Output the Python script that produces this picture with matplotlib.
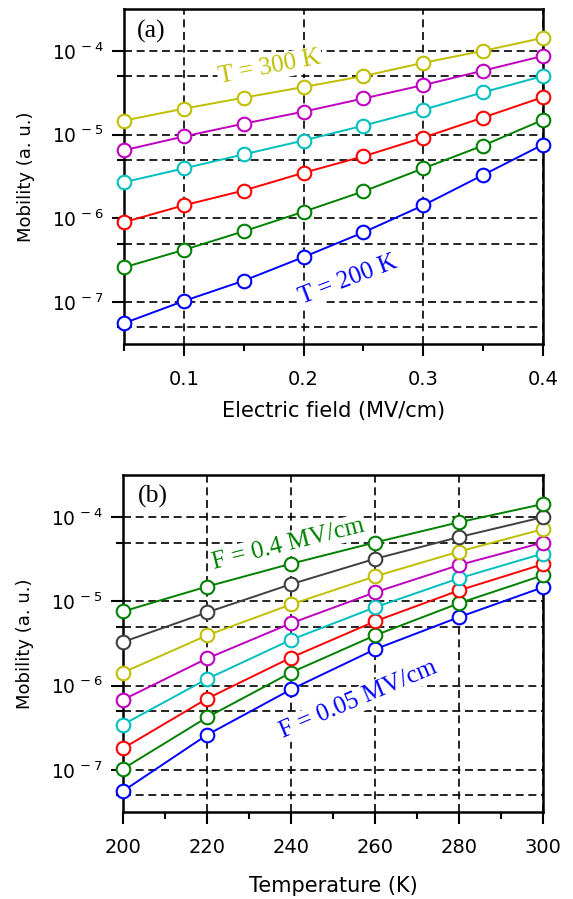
import numpy as np
import matplotlib
matplotlib.use("Agg")
import matplotlib.pyplot as plt
from matplotlib.ticker import FixedLocator, NullFormatter

# ---------------- data ----------------
field = [0.05, 0.10, 0.15, 0.20, 0.25, 0.30, 0.35, 0.40]          # MV/cm
temperature = [200, 220, 240, 260, 280, 300]                       # K

# mobility (a.u.) vs field, one list per temperature
mu_T200 = [5.6e-8, 1.03e-7, 1.8e-7, 3.45e-7, 6.8e-7, 1.43e-6, 3.3e-6, 7.6e-6]
mu_T220 = [2.6e-7, 4.2e-7, 7.0e-7, 1.2e-6, 2.1e-6, 3.95e-6, 7.4e-6, 1.5e-5]
mu_T240 = [9.0e-7, 1.43e-6, 2.15e-6, 3.5e-6, 5.5e-6, 9.2e-6, 1.6e-5, 2.8e-5]
mu_T260 = [2.7e-6, 3.95e-6, 5.8e-6, 8.5e-6, 1.28e-5, 1.98e-5, 3.2e-5, 5.0e-5]
mu_T280 = [6.5e-6, 9.5e-6, 1.35e-5, 1.88e-5, 2.7e-5, 3.9e-5, 5.8e-5, 8.7e-5]
mu_T300 = [1.47e-5, 2.04e-5, 2.76e-5, 3.7e-5, 5.0e-5, 7.2e-5, 1.0e-4, 1.43e-4]

colors_a = ["#0000ff", "#008000", "#ff0000", "#00bfbf", "#bf00bf", "#bfbf00"]
colors_b = ["#0000ff", "#008000", "#ff0000", "#00bfbf", "#bf00bf", "#bfbf00",
            "#404040", "#008000"]

ytick_vals = [1e-7, 1e-6, 1e-5, 1e-4]
ytick_labels = [r"$10^{\,-7}$", r"$10^{\,-6}$", r"$10^{\,-5}$", r"$10^{\,-4}$"]
yminor_vals = [5e-8, 5e-7, 5e-6, 5e-5]

xa_major = [0.1, 0.2, 0.3, 0.4]
xa_labels = ["0.1", "0.2", "0.3", "0.4"]
xa_minor = [0.05, 0.15, 0.25, 0.35]
xb_major = [200, 220, 240, 260, 280, 300]
xb_labels = ["200", "220", "240", "260", "280", "300"]
xb_minor = [210, 230, 250, 270, 290]

mu_by_T = [mu_T200, mu_T220, mu_T240, mu_T260, mu_T280, mu_T300]

# ---------------- style ----------------
plt.rcParams["font.family"] = ["DejaVu Sans"]
plt.rcParams["mathtext.fontset"] = "dejavusans"
serif = ["Liberation Serif", "DejaVu Serif"]

fig = plt.figure(figsize=(5.73, 8.99), dpi=100)
ax_a = fig.add_axes([0.2164, 0.6174, 0.9476 - 0.2164, 0.990 - 0.6174])
ax_b = fig.add_axes([0.2147, 0.0968, 0.9476 - 0.2147, 0.4716 - 0.0968])

mk = dict(marker="o", markersize=9.8, markerfacecolor="white",
          markeredgewidth=1.5, linewidth=1.4, clip_on=False, zorder=3)

for mu, c in zip(mu_by_T, colors_a):
    ax_a.plot(field, mu, color=c, markeredgecolor=c, **mk)

mu_by_F = np.array(mu_by_T).T
for mu, c in zip(mu_by_F, colors_b):
    ax_b.plot(temperature, mu, color=c, markeredgecolor=c, **mk)


def style(ax, xlim, xmaj, xlab, xmin, xlabel, xlabelpad):
    ax.set_yscale("log")
    ax.set_ylim(10 ** -7.5, 10 ** -3.5)
    ax.set_xlim(*xlim)
    ax.yaxis.set_major_locator(FixedLocator(ytick_vals))
    ax.set_yticklabels(ytick_labels)
    ax.yaxis.set_minor_locator(FixedLocator(yminor_vals))
    ax.yaxis.set_minor_formatter(NullFormatter())
    ax.set_xticks(xmaj)
    ax.set_xticklabels(xlab)
    ax.xaxis.set_minor_locator(FixedLocator(xmin))
    ax.tick_params(which="major", direction="out", length=8.5, width=1.5)
    ax.tick_params(axis="y", which="major", labelsize=13.5, pad=6)
    ax.tick_params(axis="x", which="major", labelsize=14, pad=10)
    ax.tick_params(which="minor", direction="out", length=5, width=1.5)
    for s in ax.spines.values():
        s.set_linewidth(1.8)
    ax.set_axisbelow(True)
    ax.grid(axis="x", which="major", color="black", linewidth=1.2,
            linestyle=(0, (4.8, 2.8)))
    ax.grid(axis="y", which="both", color="black", linewidth=1.2,
            linestyle=(0, (4.8, 2.8)))
    ax.set_ylabel("Mobility (a. u.)", fontsize=13, labelpad=12)
    ax.set_xlabel(xlabel, fontsize=15, labelpad=xlabelpad)


style(ax_a, (0.05, 0.4), xa_major, xa_labels, xa_minor,
      "Electric field (MV/cm)", 9)
style(ax_b, (200, 300), xb_major, xb_labels, xb_minor,
      "Temperature (K)", 14)

bb = dict(facecolor="white", edgecolor="none", pad=1.0)
ax_a.text(0.073, 10 ** -3.77, "(a)", fontsize=18.5, family=serif,
          ha="center", va="center")
ax_a.text(0.172, 10 ** -4.20, "T = 300 K", fontsize=18, family=serif,
          color="#bfbf00", rotation=11, ha="center", va="center", bbox=bb,
          rotation_mode="anchor", zorder=2)
ax_a.text(0.237, 10 ** -6.73, "T = 200 K", fontsize=18, family=serif,
          color="#0000ff", rotation=21, ha="center", va="center", bbox=bb,
          rotation_mode="anchor", zorder=2)

ax_b.text(207, 10 ** -3.75, "(b)", fontsize=18.5, family=serif,
          ha="center", va="center")
ax_b.text(239.3, 10 ** -4.32, "F = 0.4 MV/cm", fontsize=18, family=serif,
          color="#008000", rotation=14, ha="center", va="center", bbox=bb,
          rotation_mode="anchor", zorder=2)
ax_b.text(256, 10 ** -6.17, "F = 0.05 MV/cm", fontsize=18, family=serif,
          color="#0000ff", rotation=23, ha="center", va="center", bbox=bb,
          rotation_mode="anchor", zorder=2)

fig.savefig("out.png", dpi=100)
